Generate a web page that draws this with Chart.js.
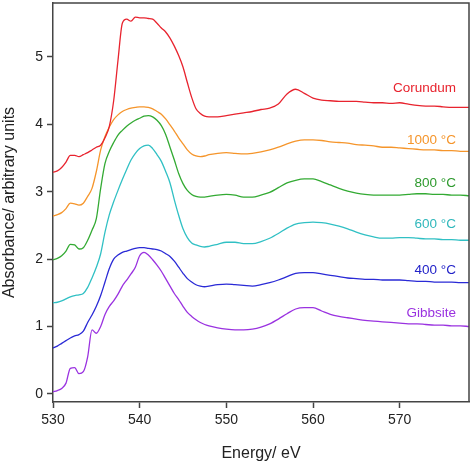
<!DOCTYPE html>
<html>
<head>
<meta charset="utf-8">
<script src="https://cdn.jsdelivr.net/npm/chart.js@4/dist/chart.umd.min.js"></script>
<style>
html,body{margin:0;padding:0;background:#fff;}
#wrap{width:474px;height:463px;}
</style>
</head>
<body>
<div id="wrap"><canvas id="c" width="474" height="463"></canvas></div>
<script>
// Energy grid (eV)
const energy = [530,530.5,531,531.5,532,532.5,533,533.5,534,534.5,535,535.5,536,536.5,537,537.5,538,538.5,539,539.5,540,540.5,541,541.5,542,542.5,543,543.5,544,544.5,545,545.5,546,546.5,547,547.5,548,
549,550,551,552,553,554,555,556,557,558,559,560,561,562,563,564,565,566,567,568,569,570,571,572,573,574,575,576,577,578];

const seriesNames = ["Corundum","1000 °C","800 °C","600 °C","400 °C","Gibbsite"];

const corundum = [3.29,3.31,3.36,3.44,3.54,3.54,3.52,3.55,3.58,3.62,3.66,3.69,3.80,3.97,4.35,4.95,5.50,5.56,5.53,5.59,5.58,5.58,5.57,5.56,5.50,5.43,5.37,5.28,5.16,5.02,4.85,4.62,4.40,4.23,4.16,4.12,4.11,
4.11,4.13,4.15,4.17,4.19,4.22,4.24,4.30,4.45,4.52,4.46,4.39,4.36,4.35,4.34,4.34,4.34,4.33,4.32,4.32,4.31,4.32,4.30,4.28,4.27,4.27,4.26,4.25,4.25,4.25];

const c1000 = [2.64,2.66,2.69,2.75,2.83,2.82,2.80,2.83,2.93,3.05,3.30,3.62,3.82,3.96,4.07,4.14,4.19,4.22,4.24,4.25,4.26,4.26,4.25,4.23,4.19,4.15,4.08,3.99,3.90,3.80,3.71,3.62,3.56,3.53,3.52,3.53,3.55,
3.57,3.58,3.57,3.56,3.57,3.59,3.62,3.66,3.71,3.75,3.77,3.77,3.76,3.74,3.73,3.72,3.70,3.69,3.68,3.66,3.66,3.65,3.64,3.63,3.62,3.62,3.61,3.61,3.60,3.60];

const c800 = [1.99,2.01,2.05,2.12,2.22,2.21,2.15,2.17,2.28,2.43,2.60,3.05,3.42,3.60,3.73,3.84,3.91,3.97,4.02,4.06,4.09,4.12,4.13,4.11,4.06,3.98,3.85,3.66,3.47,3.27,3.12,3.02,2.96,2.93,2.92,2.92,2.93,
2.95,2.96,2.95,2.92,2.92,2.95,2.99,3.06,3.13,3.17,3.19,3.19,3.15,3.10,3.05,3.01,2.98,2.96,2.95,2.95,2.95,2.95,2.96,2.97,2.97,2.96,2.96,2.95,2.95,2.94];

const c600 = [1.35,1.36,1.38,1.41,1.44,1.46,1.47,1.49,1.58,1.72,1.88,2.08,2.40,2.66,2.85,3.02,3.18,3.33,3.47,3.57,3.64,3.68,3.69,3.64,3.55,3.45,3.30,3.13,2.88,2.65,2.45,2.32,2.24,2.21,2.19,2.18,2.19,
2.22,2.25,2.25,2.23,2.23,2.26,2.31,2.38,2.46,2.52,2.54,2.55,2.54,2.52,2.49,2.45,2.40,2.36,2.33,2.31,2.31,2.32,2.32,2.31,2.30,2.30,2.29,2.29,2.28,2.28];

const c400 = [0.68,0.71,0.75,0.79,0.83,0.86,0.88,0.93,1.06,1.17,1.30,1.46,1.66,1.86,2.00,2.06,2.10,2.12,2.14,2.16,2.17,2.17,2.16,2.15,2.14,2.12,2.08,2.04,1.97,1.88,1.79,1.71,1.66,1.62,1.60,1.59,1.60,
1.62,1.63,1.62,1.61,1.60,1.62,1.65,1.69,1.74,1.79,1.80,1.80,1.78,1.76,1.74,1.72,1.71,1.70,1.70,1.69,1.69,1.69,1.68,1.67,1.67,1.66,1.66,1.66,1.65,1.65];

const gibbsite = [0.03,0.05,0.08,0.16,0.38,0.39,0.30,0.33,0.55,0.95,0.90,1.00,1.18,1.30,1.38,1.48,1.60,1.69,1.78,1.88,2.05,2.10,2.06,1.99,1.91,1.82,1.71,1.60,1.49,1.40,1.30,1.21,1.15,1.10,1.06,1.03,1.01,
0.98,0.96,0.95,0.95,0.96,0.99,1.04,1.11,1.19,1.26,1.28,1.28,1.23,1.18,1.15,1.13,1.11,1.09,1.08,1.07,1.06,1.05,1.04,1.04,1.03,1.02,1.02,1.01,1.01,1.00];

const xTicks = [530,540,550,560,570];
const yTicks = [0,1,2,3,4,5];

const allSeries = [corundum,c1000,c800,c600,c400,gibbsite];
const colors = ["#e8232e","#f5952b","#33aa33","#30c0c4","#2a2ad6","#9a32e0"];
const labelColors = ["#e8232e","#f5952b","#2e9a2e","#30b8bc","#2222c8","#9a32e0"];
// label anchors (data units): right edge energy, value
const labelAnchorX = 576.5;
const labelAnchorY = [4.54,3.77,3.13,2.51,1.84,1.19];

const datasets = allSeries.map((vals,i)=>({
  label: seriesNames[i],
  data: energy.map((e,j)=>({x:e,y:vals[j]})),
  borderColor: colors[i],
  borderWidth: 1.3,
  pointRadius: 0,
  fill: false,
  cubicInterpolationMode: 'monotone'
}));

const frameColor = '#444';

const framePlugin = {
  id: 'frame',
  afterDatasetsDraw(chart){
    const {ctx, chartArea:a} = chart;
    ctx.save();
    ctx.strokeStyle = frameColor;
    ctx.lineWidth = 1.5;
    ctx.beginPath();
    ctx.moveTo(a.left, a.top);
    ctx.lineTo(a.right, a.top);
    ctx.lineTo(a.right, a.bottom);
    ctx.stroke();
    ctx.restore();
    // series labels
    const xs = chart.scales.x, ys = chart.scales.y;
    ctx.save();
    ctx.font = '13.5px "Liberation Sans", Arial, sans-serif';
    ctx.textAlign = 'right';
    ctx.textBaseline = 'middle';
    seriesNames.forEach((n,i)=>{
      ctx.fillStyle = labelColors[i];
      ctx.fillText(n, xs.getPixelForValue(labelAnchorX), ys.getPixelForValue(labelAnchorY[i]));
    });
    ctx.restore();
  }
};

new Chart(document.getElementById('c'), {
  type: 'line',
  data: { datasets },
  plugins: [framePlugin],
  options: {
    responsive: false,
    animation: false,
    events: [],
    layout: { padding: { top: 3, right: 5, left: 0, bottom: 0 } },
    plugins: { legend: { display: false }, tooltip: { enabled: false } },
    scales: {
      x: {
        type: 'linear',
        min: 530, max: 578,
        afterBuildTicks(s){ s.ticks = xTicks.map(v=>({value:v})); },
        afterFit(s){ s.height = 61; s.paddingRight = 0; },
        grid: { drawOnChartArea: false, drawTicks: true, tickLength: 6, tickColor: frameColor, tickWidth: 1.5 },
        border: { display: true, color: frameColor, width: 1.5 },
        ticks: { color: '#222', padding: 4, maxRotation: 0, font: { family: '"Liberation Sans", Arial, sans-serif', size: 14 } },
        title: { display: true, text: 'Energy/ eV', color: '#222', padding: 0, font: { family: '"Liberation Sans", Arial, sans-serif', size: 16 } }
      },
      y: {
        type: 'linear',
        min: -0.12, max: 5.8,
        afterBuildTicks(s){ s.ticks = yTicks.map(v=>({value:v})); },
        afterFit(s){ s.width = 53; s.paddingTop = 0; s.paddingBottom = 0; },
        grid: { drawOnChartArea: false, drawTicks: true, tickLength: 6, tickColor: frameColor, tickWidth: 1.5 },
        border: { display: true, color: frameColor, width: 1.5 },
        ticks: { color: '#222', padding: 4, font: { family: '"Liberation Sans", Arial, sans-serif', size: 14 } },
        title: { display: true, text: 'Absorbance/ arbitrary units', color: '#222', padding: 0, font: { family: '"Liberation Sans", Arial, sans-serif', size: 16 } }
      }
    }
  }
});
</script>
</body>
</html>
